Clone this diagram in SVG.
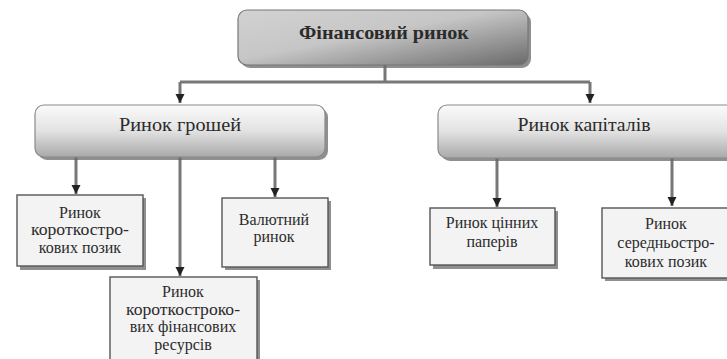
<svg xmlns="http://www.w3.org/2000/svg" width="727" height="359" viewBox="0 0 727 359">
  <defs>
    <linearGradient id="gTop" x1="0" y1="0" x2="1" y2="1">
      <stop offset="0" stop-color="#d2d2d2"/>
      <stop offset="0.45" stop-color="#c6c6c6"/>
      <stop offset="1" stop-color="#6a6a6a"/>
    </linearGradient>
    <linearGradient id="gMid" x1="0" y1="0" x2="0" y2="1">
      <stop offset="0" stop-color="#fbfbfb"/>
      <stop offset="0.5" stop-color="#e2e2e2"/>
      <stop offset="1" stop-color="#a9a9a9"/>
    </linearGradient>
    <marker id="arr" markerUnits="userSpaceOnUse" markerWidth="10" markerHeight="10" refX="9" refY="5" orient="auto">
      <path d="M0,0.5 L9,5 L0,9.5 z" fill="#222"/>
    </marker>
    <style>
      text { font-family: "Liberation Serif", "Times New Roman", "DejaVu Serif", serif; fill: #2b2b2b; text-anchor: middle; }
      .t1 { font-size: 18px; font-weight: bold; }
      .t2 { font-size: 18px; }
      .t3 { font-size: 16px; }
      .shadow { fill: #6a6a6a; opacity: 0.75; }
      .leaf { fill: #f3f3f3; stroke: #555; stroke-width: 1.4; }
      .mid { fill: url(#gMid); stroke: #8a8a8a; stroke-width: 1.2; }
      .top { fill: url(#gTop); stroke: #777; stroke-width: 1.2; }
      .c { fill: none; stroke: #777; stroke-width: 3; }
    </style>
  </defs>

  <g id="connectors">
    <path class="c" d="M385,65 V82 M180,82 H590"/>
    <path class="c" d="M180,82 V103" marker-end="url(#arr)"/>
    <path class="c" d="M590,82 V103" marker-end="url(#arr)"/>
    <path class="c" d="M76,157 V194" marker-end="url(#arr)"/>
    <path class="c" d="M180,157 V276" marker-end="url(#arr)"/>
    <path class="c" d="M275,157 V197" marker-end="url(#arr)"/>
    <path class="c" d="M497,158 V207" marker-end="url(#arr)"/>
    <path class="c" d="M672,158 V206" marker-end="url(#arr)"/>
  </g>

  <g id="node-financial-market">
    <rect class="shadow" x="241" y="13" width="290" height="55" rx="9"/>
    <rect class="top" x="238" y="10" width="290" height="55" rx="9"/>
    <text class="t1" x="384" y="39" textLength="170" lengthAdjust="spacingAndGlyphs">Фінансовий ринок</text>
  </g>

  <g id="node-money-market">
    <rect class="shadow" x="38" y="108" width="290" height="52" rx="9"/>
    <rect class="mid" x="35" y="105" width="290" height="52" rx="9"/>
    <text class="t2" x="180" y="131" textLength="122" lengthAdjust="spacingAndGlyphs">Ринок грошей</text>
  </g>

  <g id="node-capital-market">
    <rect class="shadow" x="441" y="108" width="300" height="53" rx="9"/>
    <rect class="mid" x="438" y="105" width="300" height="53" rx="9"/>
    <text class="t2" x="584" y="131" textLength="133" lengthAdjust="spacingAndGlyphs">Ринок капіталів</text>
  </g>

  <g id="node-short-loans">
    <rect class="shadow" x="20" y="198" width="126" height="72"/>
    <rect class="leaf" x="17" y="195" width="126" height="71"/>
    <text class="t3" x="80" y="218">Ринок</text>
    <text class="t3" x="80" y="235" textLength="98" lengthAdjust="spacingAndGlyphs">короткостро-</text>
    <text class="t3" x="80" y="253">кових позик</text>
  </g>

  <g id="node-short-resources">
    <rect class="shadow" x="113" y="280" width="147" height="85"/>
    <rect class="leaf" x="110" y="277" width="147" height="85"/>
    <text class="t3" x="183" y="297">Ринок</text>
    <text class="t3" x="183" y="315" textLength="114" lengthAdjust="spacingAndGlyphs">короткостроко-</text>
    <text class="t3" x="183" y="332">вих фінансових</text>
    <text class="t3" x="183" y="350">ресурсів</text>
  </g>

  <g id="node-currency">
    <rect class="shadow" x="225" y="201" width="106" height="69"/>
    <rect class="leaf" x="222" y="198" width="106" height="69"/>
    <text class="t3" x="274" y="225">Валютний</text>
    <text class="t3" x="274" y="242">ринок</text>
  </g>

  <g id="node-securities">
    <rect class="shadow" x="433" y="211" width="125" height="58"/>
    <rect class="leaf" x="430" y="208" width="125" height="57"/>
    <text class="t3" x="492" y="228">Ринок цінних</text>
    <text class="t3" x="492" y="247">паперів</text>
  </g>

  <g id="node-medium-loans">
    <rect class="shadow" x="605" y="211" width="130" height="70"/>
    <rect class="leaf" x="602" y="208" width="130" height="70"/>
    <text class="t3" x="666" y="229">Ринок</text>
    <text class="t3" x="666" y="248">середньостро-</text>
    <text class="t3" x="666" y="267">кових позик</text>
  </g>
</svg>
